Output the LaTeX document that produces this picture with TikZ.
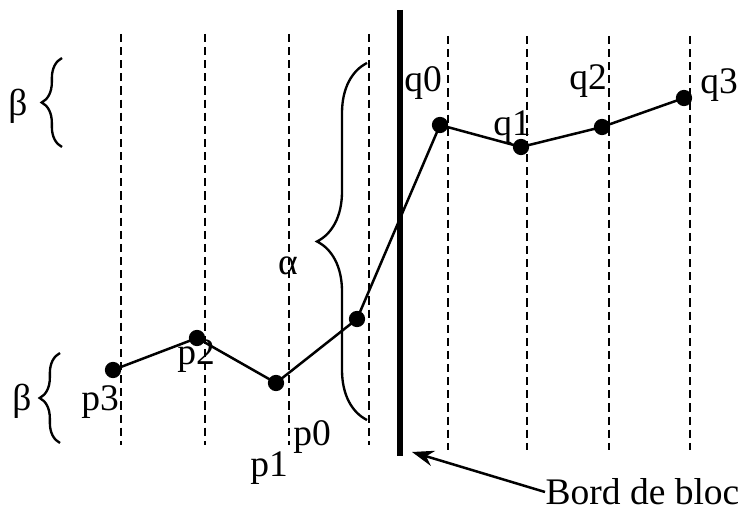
\documentclass[tikz,border=0pt]{standalone}
\usepackage{fontspec}
\setmainfont{Liberation Serif}
\usetikzlibrary{decorations.pathreplacing,arrows.meta}
\tikzset{
  gridline/.style={dash pattern=on 2.6pt off 1.6pt, line width=0.8pt},
  dot/.style={circle, fill=black, inner sep=0pt, minimum size=5.2pt},
  lbl/.style={font=\fontsize{12}{14}\selectfont, inner sep=0pt},
  bracel/.style={decorate, decoration={brace, mirror, amplitude=#1}, line width=0.75pt},
}
\begin{document}
\begin{tikzpicture}[x=0.32pt, y=-0.32pt]
    % Block edge between the p and q samples
    \useasboundingbox (0,0) rectangle (739,510);

    \foreach \xx in {121,205,289,369} \draw[gridline] (\xx,34) -- (\xx,445);
    \foreach \xx in {448,527,609,690} \draw[gridline] (\xx,36) -- (\xx,450);

    \draw[line width=2.2pt] (400,10) -- (400,456);

    % samples
    \node[dot] (p3) at (113,370) {};
    \node[dot] (p2) at (197,338) {};
    \node[dot] (p1) at (276,383) {};
    \node[dot] (p0) at (357,319) {};
    \node[dot] (q0) at (440,125) {};
    \node[dot] (q1) at (521,147) {};
    \node[dot] (q2) at (602,127) {};
    \node[dot] (q3) at (684,98) {};
    \draw[line width=0.8pt] (p3.center) -- (p2.center) -- (p1.center) -- (p0.center)
        -- (q0.center) -- (q1.center) -- (q2.center) -- (q3.center);

    \node[lbl] (p3lbl) at (100,402) {p3};
    \node[lbl] (p2lbl) at (196,356) {p2};
    \node[lbl] (p1lbl) at (269,468) {p1};
    \node[lbl] (p0lbl) at (312,437) {p0};
    \node[lbl] (q0lbl) at (423,83) {q0};
    \node[lbl] (q1lbl) at (512,127) {q1};
    \node[lbl] (q2lbl) at (588,81) {q2};
    \node[lbl] (q3lbl) at (719,85) {q3};

    % braces
    \draw[bracel=16pt] (367,63) -- (367,420);
    \node[lbl] (alpha) at (288,266) {α};
    \draw[bracel=6.5pt] (62,58) -- (62,147);
    \node[lbl] (betatop) at (18,106) {β};
    \draw[bracel=6.5pt] (60,353) -- (60,443);
    \node[lbl] (betabot) at (22,401) {β};

    \coordinate (edgetip) at (412,452);
    \node[lbl, anchor=west] (bord) at (545,492) {Bord de bloc};
    \draw[line width=0.8pt, -{Stealth[length=7pt,width=5pt]}] (bord.west) -- (edgetip);
\end{tikzpicture}
\end{document}
